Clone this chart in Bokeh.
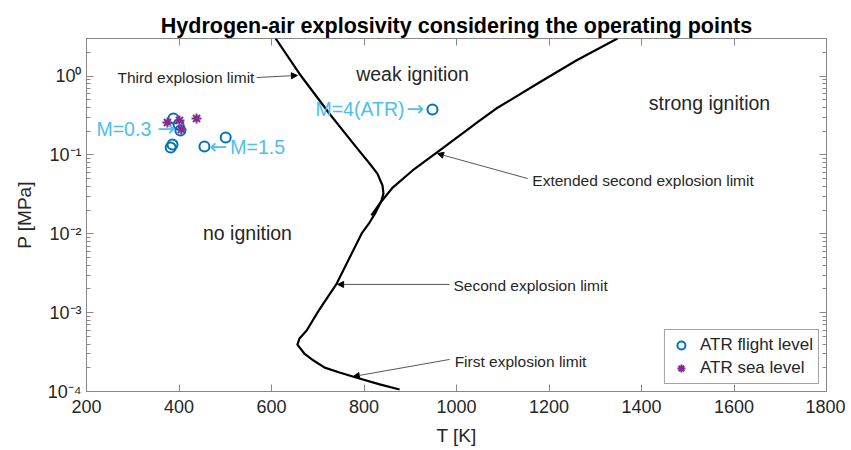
from bokeh.plotting import figure
from bokeh.models import (Range1d, LinearAxis, LogAxis, Arrow, NormalHead, Legend,
                          LegendItem, CustomJSTickFormatter, LogTicker, FixedTicker)
from bokeh.core.properties import value
from bokeh.embed import file_html
from bokeh.resources import INLINE

FONT = "Liberation Sans"

# ---- data ----
# Third -> second -> first explosion limit (one continuous curve)
limit_T = [609, 660, 725, 784, 812, 829, 840, 842, 838, 825, 812, 795, 741, 702, 676,
           660.5, 656, 671, 691, 715, 747, 790, 834, 877]
limit_P = [3.0, 1.08, 0.336, 0.124, 0.078, 0.058, 0.041, 0.0325, 0.0264, 0.0186, 0.0139,
           0.0101, 0.00234, 0.00106, 5.94e-4, 4.7e-4, 3.94e-4, 3.03e-4, 2.47e-4, 2.01e-4,
           1.74e-4, 1.46e-4, 1.23e-4, 1.06e-4]
# Extended second explosion limit
ext_T = [816, 834, 862, 905, 963, 1050, 1086, 1179, 1259, 1348]
ext_P = [0.0171, 0.0242, 0.0386, 0.0636, 0.1138, 0.2735, 0.388, 0.830, 1.578, 3.0]

# Operating points
flight_T = [388, 399, 403, 382, 386, 455, 501, 948]
flight_P = [0.290, 0.243, 0.204, 0.124, 0.1355, 0.128, 0.166, 0.377]
sea_T = [375, 401, 405, 438]
sea_P = [0.258, 0.274, 0.210, 0.290]

x_ticks = [200, 400, 600, 800, 1000, 1200, 1400, 1600, 1800]

# ---- figure ----
p = figure(x_range=Range1d(200, 1800), y_range=Range1d(1e-4, 3), y_axis_type="log",
           width=845, height=450,
           min_border_left=86, min_border_right=19, min_border_top=38, min_border_bottom=59,
           output_backend="svg", toolbar_location=None,
           title="Hydrogen-air explosivity considering the operating points")
p.title.text_font = FONT
p.title.text_font_size = "21.5px"
p.title.text_font_style = "bold"
p.title.align = "center"
p.title.text_color = "#000000"
p.title.standoff = 2
p.xgrid.visible = False
p.ygrid.visible = False
p.outline_line_color = "#888888"
p.outline_line_width = 1
p.background_fill_color = "white"
p.border_fill_color = "white"

sup_code = """
const sup = {'-':'\u207b','0':'\u2070','1':'\u00b9','2':'\u00b2','3':'\u00b3','4':'\u2074','5':'\u2075'};
const e = Math.round(Math.log10(tick));
return '10' + String(e).split('').map(c => sup[c]).join('');
"""

AX = "#888888"
TXT = "#262626"

def style_axis(ax, labels=True):
    ax.axis_line_color = AX
    ax.major_tick_line_color = AX
    ax.minor_tick_line_color = AX
    ax.major_tick_in = 7
    ax.major_tick_out = 0
    ax.minor_tick_in = 4
    ax.minor_tick_out = 0
    ax.major_label_text_font = FONT
    ax.major_label_text_font_size = "18px"
    ax.major_label_text_color = TXT
    if not labels:
        ax.formatter = CustomJSTickFormatter(code="return ' ';")
        ax.major_label_text_font_size = "2px"
        ax.major_label_text_alpha = 0
        ax.major_label_standoff = 0

xa = p.xaxis[0]
style_axis(xa)
xa.ticker = FixedTicker(ticks=x_ticks)
xa.minor_tick_line_color = None
xa.major_label_standoff = 8
xa.axis_label = "T [K]"
xa.axis_label_text_font = FONT
xa.axis_label_text_font_size = "19px"
xa.axis_label_text_font_style = "normal"
xa.axis_label_text_color = TXT
xa.axis_label_standoff = 9

ya = p.yaxis[0]
style_axis(ya)
ya.ticker = LogTicker(num_minor_ticks=10)
ya.formatter = CustomJSTickFormatter(code=sup_code)
ya.major_label_standoff = 5
ya.axis_label = "P [MPa]"
ya.axis_label_text_font = FONT
ya.axis_label_text_font_size = "19px"
ya.axis_label_text_font_style = "normal"
ya.axis_label_text_color = TXT
ya.axis_label_standoff = 10

top = LinearAxis(ticker=FixedTicker(ticks=x_ticks))
style_axis(top, labels=False)
top.minor_tick_line_color = None
top.axis_line_color = None
p.add_layout(top, "above")

right = LogAxis(ticker=LogTicker(num_minor_ticks=10))
style_axis(right, labels=False)
right.axis_line_color = None
p.add_layout(right, "right")

# ---- curves ----
p.line(limit_T, limit_P, line_color="black", line_width=2.2, line_join="round")
p.line(ext_T, ext_P, line_color="black", line_width=2.2, line_join="round")

# ---- operating points ----
r_fl = p.scatter(flight_T, flight_P, marker="circle", size=10, fill_color=None,
                 line_color="#0072BD", line_width=2)
r_sea = p.scatter(sea_T, sea_P, marker="asterisk", size=10, line_color="#7E2F8E",
                  line_width=2)

# ---- region labels ----
def txt(x, y, s, size, color=TXT, align="center", font=FONT):
    p.text(x=[x], y=[y], text=[s], text_font=value(font), text_font_size=value(size),
           text_color=color, text_align=align, text_baseline="middle")

txt(905, 10**0.033, "weak ignition", "19.5px")
txt(1547, 10**-0.347, "strong ignition", "19.5px")
txt(548, 10**-1.996, "no ignition", "19.5px")

BLUE = "#4DBEEE"
txt(221.6, 10**-0.665, "M=0.3", "19.5px", BLUE, "left")
txt(353.5, 10**-0.665, "\u2192", "21px", BLUE, "left", "DejaVu Sans")
txt(466, 10**-0.893, "\u2190", "21px", BLUE, "left", "DejaVu Sans")
txt(511, 10**-0.893, "M=1.5", "19.5px", BLUE, "left")
txt(695, 10**-0.411, "M=4(ATR)", "19.5px", BLUE, "left")
txt(892, 10**-0.411, "\u2192", "21px", BLUE, "left", "DejaVu Sans")

txt(563, 10**-0.018, "Third explosion limit", "15.5px", TXT, "right")
txt(1164, 10**-1.324, "Extended second explosion limit", "15.5px", TXT, "left")
txt(993.5, 10**-2.656, "Second explosion limit", "15.5px", TXT, "left")
txt(996, 10**-3.62, "First explosion limit", "15.5px", TXT, "left")

def arrow(x0, y0, x1, y1):
    p.add_layout(Arrow(end=NormalHead(size=6, fill_color="black", line_color="black",
                                      line_width=1),
                       x_start=x0, y_start=y0, x_end=x1, y_end=y1,
                       line_color="#555555", line_width=1))

arrow(568, 0.96, 656, 1.02)
arrow(1154, 0.0502, 959, 0.104)
arrow(985, 0.00228, 743, 0.00228)
arrow(985, 2.55e-4, 777, 1.55e-4)

# ---- legend ----
legend = Legend(items=[LegendItem(label="ATR flight level", renderers=[r_fl]),
                       LegendItem(label="ATR sea level", renderers=[r_sea])],
                location="bottom_right")
legend.label_text_font = FONT
legend.label_text_font_size = "17px"
legend.label_text_color = TXT
legend.border_line_color = "#444444"
legend.border_line_width = 1
legend.margin = 7
legend.padding = 5
legend.spacing = 3
legend.glyph_width = 22
legend.glyph_height = 20
legend.label_height = 20
legend.label_standoff = 8
legend.background_fill_alpha = 1
p.add_layout(legend)

open("out.html", "w").write(file_html(p, INLINE))
